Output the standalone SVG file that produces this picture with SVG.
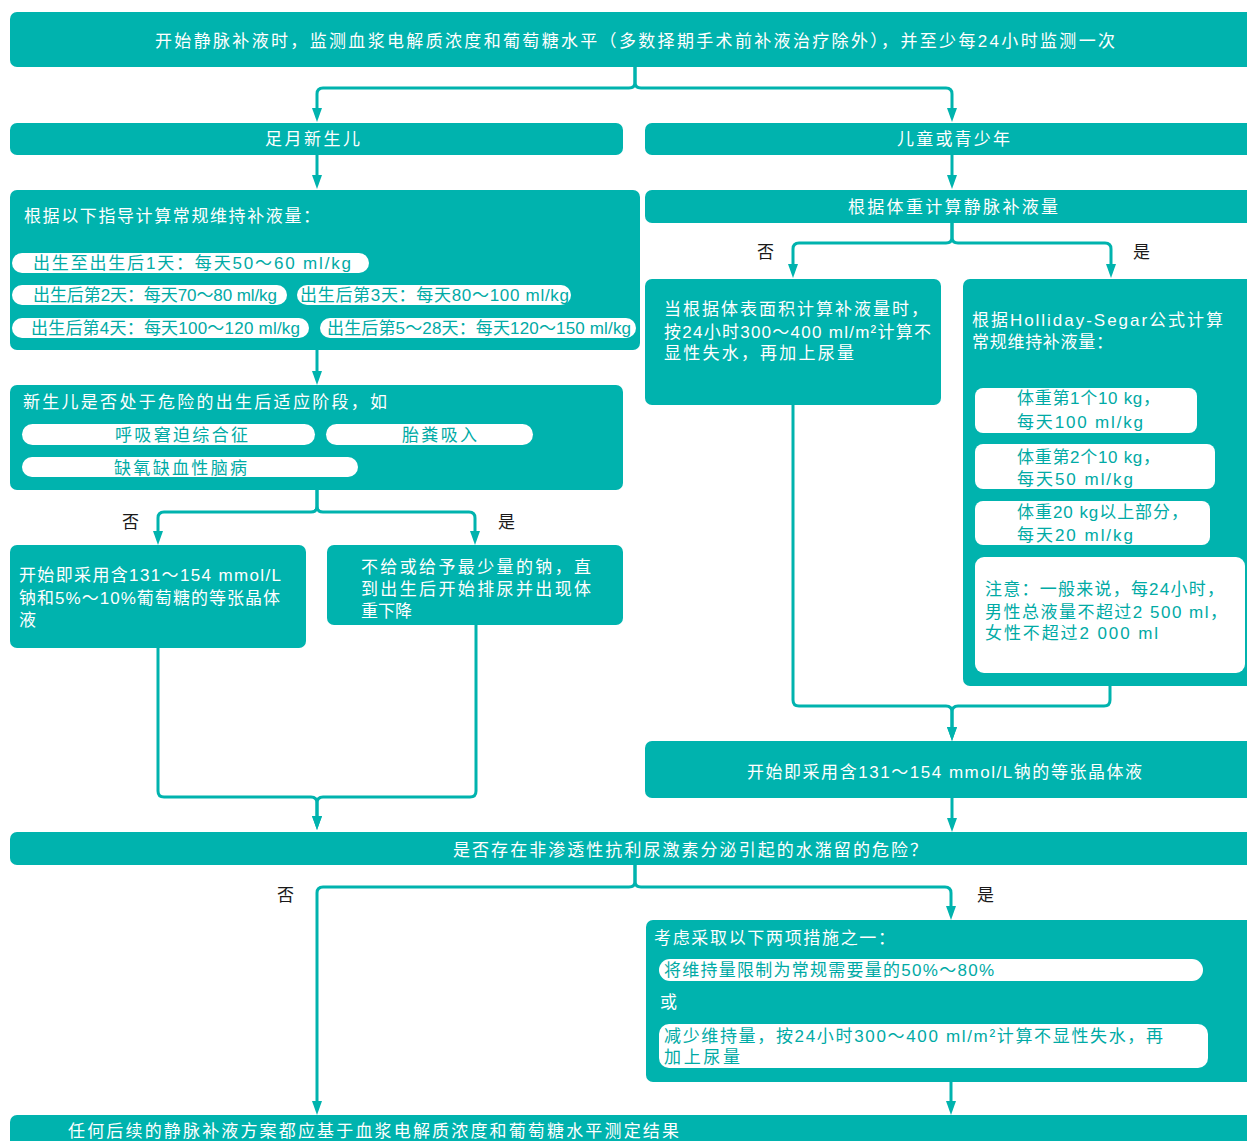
<svg xmlns="http://www.w3.org/2000/svg" width="1247" height="1141" viewBox="0 0 1247 1141">
<style>
.box{fill:#00b3ae}
.pill{fill:#ffffff}
text{font-family:"Liberation Sans","Noto Sans CJK SC",sans-serif;font-size:17px;fill:#ffffff}
text.tp{fill:#00aaa5}
text.lbl{fill:#1a1a1a}
.c{fill:none;stroke:#00b3ae;stroke-width:3;stroke-linejoin:round}
</style>
<defs>
<marker id="ah" viewBox="0 0 14 10" markerWidth="14" markerHeight="10" refX="6" refY="5" orient="auto" markerUnits="userSpaceOnUse">
<path d="M0,0 L14,5 L0,10 z" fill="#00b3ae"/>
</marker>
</defs>
<rect width="1247" height="1141" fill="#ffffff"/>

<g id="connectors">
<path class="c" d="M635,67 V82 Q635,88 629,88 H323 Q317,88 317,94 V114" marker-end="url(#ah)"/>
<path class="c" d="M635,67 V82 Q635,88 641,88 H946 Q952,88 952,94 V114" marker-end="url(#ah)"/>
<path class="c" d="M317,155 V181" marker-end="url(#ah)"/>
<path class="c" d="M952,155 V181" marker-end="url(#ah)"/>
<path class="c" d="M317,350 V377" marker-end="url(#ah)"/>
<path class="c" d="M317,490 V506 Q317,512 311,512 H164 Q158,512 158,518 V537" marker-end="url(#ah)"/>
<path class="c" d="M317,490 V506 Q317,512 323,512 H469 Q475,512 475,518 V537" marker-end="url(#ah)"/>
<path class="c" d="M158,648 V791 Q158,797 164,797 H311 Q317,797 317,803 V822" marker-end="url(#ah)"/>
<path class="c" d="M476,625 V791 Q476,797 470,797 H323 Q317,797 317,803 V822" marker-end="url(#ah)"/>
<path class="c" d="M952,222 V237 Q952,243 946,243 H799 Q793,243 793,249 V270" marker-end="url(#ah)"/>
<path class="c" d="M952,222 V237 Q952,243 958,243 H1105 Q1111,243 1111,249 V270" marker-end="url(#ah)"/>
<path class="c" d="M793,405 V700 Q793,706 799,706 H946 Q952,706 952,712 V733" marker-end="url(#ah)"/>
<path class="c" d="M1110,686 V700 Q1110,706 1104,706 H958 Q952,706 952,712 V733" marker-end="url(#ah)"/>
<path class="c" d="M952,798 V824" marker-end="url(#ah)"/>
<path class="c" d="M635,865 V881 Q635,887 629,887 H323 Q317,887 317,893 V1107" marker-end="url(#ah)"/>
<path class="c" d="M635,865 V881 Q635,887 641,887 H945 Q951,887 951,893 V912" marker-end="url(#ah)"/>
<path class="c" d="M951,1082 V1107" marker-end="url(#ah)"/>
<text class="lbl" x="122" y="528">否</text>
<text class="lbl" x="498" y="528">是</text>
<text class="lbl" x="757" y="258">否</text>
<text class="lbl" x="1133" y="258">是</text>
<text class="lbl" x="277" y="901">否</text>
<text class="lbl" x="977" y="901">是</text>
</g>

<g id="n-top">
<rect class="box" x="10" y="12" width="1250" height="55" rx="7"/>
<text x="155" y="47" textLength="960">开始静脉补液时，监测血浆电解质浓度和葡萄糖水平（多数择期手术前补液治疗除外），并至少每24小时监测一次</text>
</g>

<g id="n-newborn">
<rect class="box" x="10" y="123" width="613" height="32" rx="7"/>
<text x="265" y="145" textLength="95">足月新生儿</text>
</g>

<g id="n-child">
<rect class="box" x="645" y="123" width="615" height="32" rx="7"/>
<text x="897" y="145" textLength="113">儿童或青少年</text>
</g>

<g id="n-newborn-calc">
<rect class="box" x="10" y="190" width="630" height="160" rx="7"/>
<text x="24" y="222" textLength="296">根据以下指导计算常规维持补液量：</text>
<rect class="pill" x="12" y="253" width="357" height="20" rx="10"/>
<text class="tp" x="33" y="269" textLength="318">出生至出生后1天：每天50～60 ml/kg</text>
<rect class="pill" x="12" y="285" width="275" height="20" rx="10"/>
<text class="tp" x="33" y="301" textLength="244">出生后第2天：每天70～80 ml/kg</text>
<rect class="pill" x="297" y="285" width="274" height="20" rx="10"/>
<text class="tp" x="300" y="301" textLength="269">出生后第3天：每天80～100 ml/kg</text>
<rect class="pill" x="12" y="318" width="297" height="20" rx="10"/>
<text class="tp" x="31" y="334" textLength="269">出生后第4天：每天100～120 ml/kg</text>
<rect class="pill" x="320" y="318" width="316" height="20" rx="10"/>
<text class="tp" x="327" y="334" textLength="304">出生后第5～28天：每天120～150 ml/kg</text>
</g>

<g id="n-risk">
<rect class="box" x="10" y="385" width="613" height="105" rx="7"/>
<text x="23" y="408" textLength="364">新生儿是否处于危险的出生后适应阶段，如</text>
<rect class="pill" x="22" y="424" width="293" height="21" rx="10.5"/>
<text class="tp" x="115" y="441" textLength="133">呼吸窘迫综合征</text>
<rect class="pill" x="326" y="424" width="207" height="21" rx="10.5"/>
<text class="tp" x="402" y="441" textLength="75">胎粪吸入</text>
<rect class="pill" x="22" y="457" width="336" height="20" rx="10"/>
<text class="tp" x="114" y="474" textLength="133">缺氧缺血性脑病</text>
</g>

<g id="n-risk-no">
<rect class="box" x="10" y="545" width="296" height="103" rx="7"/>
<text x="19" y="581" textLength="262">开始即采用含131～154 mmol/L</text>
<text x="19" y="604" textLength="261">钠和5%～10%葡萄糖的等张晶体</text>
<text x="19" y="626">液</text>
</g>

<g id="n-risk-yes">
<rect class="box" x="327" y="545" width="296" height="80" rx="7"/>
<text x="361" y="573" textLength="230">不给或给予最少量的钠，直</text>
<text x="361" y="595" textLength="230">到出生后开始排尿并出现体</text>
<text x="361" y="617">重下降</text>
</g>

<g id="n-weight">
<rect class="box" x="645" y="190" width="615" height="33" rx="7"/>
<text x="848" y="213" textLength="210">根据体重计算静脉补液量</text>
</g>

<g id="n-bsa">
<rect class="box" x="645" y="279" width="296" height="126" rx="7"/>
<text x="664" y="315" textLength="264">当根据体表面积计算补液量时，</text>
<text x="664" y="338" textLength="267">按24小时300～400 ml/m²计算不</text>
<text x="664" y="359" textLength="190">显性失水，再加上尿量</text>
</g>

<g id="n-hs">
<rect class="box" x="963" y="279" width="297" height="407" rx="7"/>
<text x="972" y="326" textLength="251">根据Holliday-Segar公式计算</text>
<text x="972" y="348" textLength="141">常规维持补液量：</text>
<rect class="pill" x="975" y="388" width="222" height="45" rx="8"/>
<text class="tp" x="1017" y="404" textLength="143">体重第1个10 kg，</text>
<text class="tp" x="1017" y="428" textLength="126">每天100 ml/kg</text>
<rect class="pill" x="975" y="444" width="240" height="45" rx="8"/>
<text class="tp" x="1017" y="463" textLength="143">体重第2个10 kg，</text>
<text class="tp" x="1017" y="485" textLength="116">每天50 ml/kg</text>
<rect class="pill" x="975" y="501" width="235" height="44" rx="8"/>
<text class="tp" x="1017" y="518" textLength="171">体重20 kg以上部分，</text>
<text class="tp" x="1017" y="541" textLength="116">每天20 ml/kg</text>
<rect class="pill" x="975" y="557" width="270" height="116" rx="9"/>
<text class="tp" x="985" y="595" textLength="239">注意：一般来说，每24小时，</text>
<text class="tp" x="985" y="618" textLength="242">男性总液量不超过2 500 ml，</text>
<text class="tp" x="985" y="639" textLength="173">女性不超过2 000 ml</text>
</g>

<g id="n-isotonic">
<rect class="box" x="645" y="741" width="615" height="57" rx="7"/>
<text x="747" y="778" textLength="395">开始即采用含131～154 mmol/L钠的等张晶体液</text>
</g>

<g id="n-adh">
<rect class="box" x="10" y="832" width="1250" height="33" rx="7"/>
<text x="453" y="856" textLength="474">是否存在非渗透性抗利尿激素分泌引起的水潴留的危险？</text>
</g>

<g id="n-adh-yes">
<rect class="box" x="646" y="920" width="614" height="162" rx="7"/>
<text x="654" y="944" textLength="241">考虑采取以下两项措施之一：</text>
<rect class="pill" x="659" y="959" width="544" height="22" rx="11"/>
<text class="tp" x="664" y="976" textLength="330">将维持量限制为常规需要量的50%～80%</text>
<text x="660" y="1008">或</text>
<rect class="pill" x="659" y="1024" width="549" height="44" rx="10"/>
<text class="tp" x="664" y="1042" textLength="499">减少维持量，按24小时300～400 ml/m²计算不显性失水，再</text>
<text class="tp" x="664" y="1063" textLength="76">加上尿量</text>
</g>

<g id="n-final">
<rect class="box" x="10" y="1115" width="1250" height="40" rx="7"/>
<text x="68" y="1137" textLength="611">任何后续的静脉补液方案都应基于血浆电解质浓度和葡萄糖水平测定结果</text>
</g>
</svg>
